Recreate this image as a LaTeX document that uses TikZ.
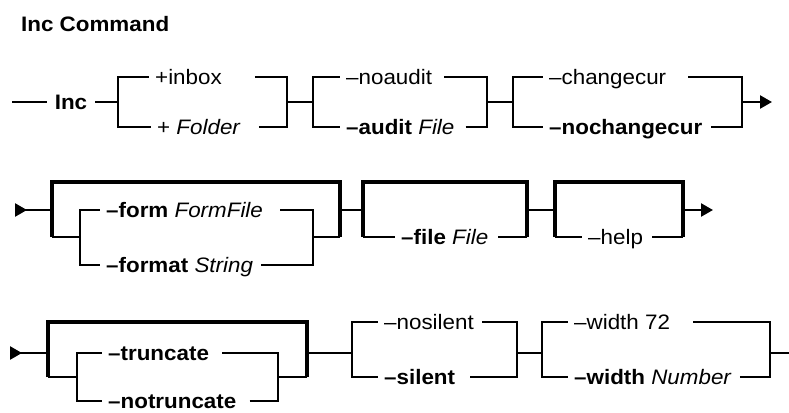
\documentclass[tikz,border=0pt]{standalone}
\usepackage{fontspec}
\setmainfont{Liberation Sans}[FakeStretch=1.07]
\usepackage{tikz}
\usetikzlibrary{arrows.meta}

\newcommand{\railfont}{\fontsize{21}{24}\selectfont}

\begin{document}
\begin{tikzpicture}[x=1bp,y=-1bp,line join=miter,
  wire/.style={line width=2.4bp},
  loop/.style={line width=3.8bp},
  opt/.style={anchor=west,font=\railfont,inner xsep=6bp,inner ysep=0bp,
    text height=15bp,text depth=0bp},
  cmd/.style={font=\railfont\bfseries,inner xsep=8bp,inner ysep=0bp,
    text height=15bp,text depth=0bp},
  tip/.style={-{Triangle[length=12bp,width=13bp]}},
  lead/.style={{Triangle[reversed,length=12bp,width=13bp]}-},
]
\fill[white] (0,0) rectangle (789,412);
\useasboundingbox (0,0) rectangle (789,412);

% Node: title
\node[anchor=base west,inner sep=0bp,font=\railfont\bfseries] (title) at (21,31) {Inc Command};

%% first line
\coordinate (r1in) at (12,102);
\coordinate (s1) at (118,102);
\coordinate (j1) at (287,102);
\coordinate (s2) at (313,102);
\coordinate (j2) at (487,102);
\coordinate (s3) at (513,102);
\coordinate (j3) at (742,102);
\coordinate (r1out) at (772,102);
% Node: inc
\node[cmd] (inc) at (71,102) {Inc};
% Node: inbox, folder
\node[opt] (inbox) at (149,77) {+inbox};
\node[opt] (folder) at (151,127) {+ \textit{Folder}};
% Node: noaudit, audit
\node[opt] (noaudit) at (340,77) {–noaudit};
\node[opt] (audit) at (340,127) {\textbf{–audit} \textit{File}};
% Node: changecur, nochangecur
\node[opt] (changecur) at (543,77) {–changecur};
\node[opt] (nochangecur) at (543,127) {\textbf{–nochangecur}};
% Edge: r1in -> inc -> s1
\draw[wire] (r1in) -- (inc);
\draw[wire] (inc) -- (s1);
% Edge: s1 -> inbox, folder -> j1
\draw[wire] (s1) |- (inbox);
\draw[wire] (s1) |- (folder);
\draw[wire] (inbox.east) ++(27,0) -| (j1);
\draw[wire] (folder.east) ++(12,0) -| (j1);
% Edge: j1 -> s2 -> noaudit, audit -> j2
\draw[wire] (j1) -- (s2);
\draw[wire] (s2) |- (noaudit);
\draw[wire] (s2) |- (audit);
\draw[wire] (noaudit.east) ++(6,0) -| (j2);
\draw[wire] (audit.east) ++(5,0) -| (j2);
% Edge: j2 -> s3 -> changecur, nochangecur -> j3
\draw[wire] (j2) -- (s3);
\draw[wire] (s3) |- (changecur);
\draw[wire] (s3) |- (nochangecur);
\draw[wire] (changecur.east) ++(16,0) -| (j3);
\draw[wire] (nochangecur.east) ++(3,0) -| (j3);
\draw[wire,tip] (j3) -- (r1out);

%% second line
\coordinate (r2in) at (15,210);
\coordinate (lp1) at (52,210);
\coordinate (lb1) at (52,237);
\coordinate (s4) at (80,237);
\coordinate (j4) at (313,237);
\coordinate (lc1) at (340,237);
\coordinate (lq1) at (340,210);
\coordinate (lp2) at (363,210);
\coordinate (lb2) at (363,237);
\coordinate (lc2) at (527,237);
\coordinate (lq2) at (527,210);
\coordinate (lp3) at (555,210);
\coordinate (lb3) at (555,237);
\coordinate (lc3) at (683,237);
\coordinate (lq3) at (683,210);
\coordinate (r2out) at (713,210);
% Node: form, format
\node[opt] (form) at (100,210) {\textbf{–form} \textit{FormFile}};
\node[opt] (format) at (100,265) {\textbf{–format} \textit{String}};
% Node: file
\node[opt] (file) at (395,237) {\textbf{–file} \textit{File}};
% Node: help
\node[opt] (help) at (582,237) {–help};
% Edge: r2in -> lp1
\draw[wire,lead] (r2in) -- (lp1);
% Edge: lb1 -> lc1 (skip)
\draw[loop] (lb1) -- ++(0,-55) -| (lc1);
\draw[wire] (lb1) -- (s4);
\draw[wire] (s4) |- (form);
\draw[wire] (s4) |- (format);
\draw[wire] (form.east) ++(11,0) -| (j4);
\draw[wire] (format.east) ++(2,0) -| (j4);
\draw[wire] (j4) -- (lc1);
% Edge: lq1 -> lp2
\draw[wire] (lq1) -- (lp2);
% Edge: lb2 -> lc2 (skip)
\draw[loop] (lb2) -- ++(0,-55) -| (lc2);
\draw[wire] (lb2) -- (file);
\draw[wire] (file.east) ++(4,0) -- (lc2);
% Edge: lq2 -> lp3
\draw[wire] (lq2) -- (lp3);
% Edge: lb3 -> lc3 (skip)
\draw[loop] (lb3) -- ++(0,-55) -| (lc3);
\draw[wire] (lb3) -- (help);
\draw[wire] (help.east) ++(3,0) -- (lc3);
\draw[wire,tip] (lq3) -- (r2out);

%% third line
\coordinate (r3in) at (10,353);
\coordinate (lp4) at (48,353);
\coordinate (lb4) at (48,377);
\coordinate (s7) at (77,377);
\coordinate (j7) at (278,377);
\coordinate (lc4) at (307,377);
\coordinate (lq4) at (307,353);
\coordinate (s8) at (352,353);
\coordinate (j8) at (517,353);
\coordinate (s9) at (542,353);
\coordinate (j9) at (770,353);
\coordinate (r3out) at (789,353);
% Node: truncate, notruncate
\node[opt] (truncate) at (102,353) {\textbf{–truncate}};
\node[opt] (notruncate) at (102,401) {\textbf{–notruncate}};
% Node: nosilent, silent
\node[opt] (nosilent) at (378,322) {–nosilent};
\node[opt] (silent) at (378,377) {\textbf{–silent}};
% Node: width72, widthnum
\node[opt] (width72) at (568,322) {–width 72};
\node[opt] (widthnum) at (568,377) {\textbf{–width} \textit{Number}};
% Edge: r3in -> lp4
\draw[wire,lead] (r3in) -- (lp4);
% Edge: lb4 -> lc4 (skip)
\draw[loop] (lb4) -- ++(0,-55) -| (lc4);
\draw[wire] (lb4) -- (s7);
\draw[wire] (s7) |- (truncate);
\draw[wire] (s7) |- (notruncate);
\draw[wire] (truncate.east) ++(7,0) -| (j7);
\draw[wire] (notruncate.east) ++(7,0) -| (j7);
\draw[wire] (j7) -- (lc4);
% Edge: lq4 -> s8 -> nosilent, silent -> j8
\draw[wire] (lq4) -- (s8);
\draw[wire] (s8) |- (nosilent);
\draw[wire] (s8) |- (silent);
\draw[wire] (nosilent.east) ++(2,0) -| (j8);
\draw[wire] (silent.east) ++(9,0) -| (j8);
% Edge: j8 -> s9 -> width72, widthnum -> j9
\draw[wire] (j8) -- (s9);
\draw[wire] (s9) |- (width72);
\draw[wire] (s9) |- (widthnum);
\draw[wire] (width72.east) ++(17,0) -| (j9);
\draw[wire] (widthnum.east) ++(2,0) -| (j9);
\draw[wire] (j9) -- (r3out);
\end{tikzpicture}
\end{document}
